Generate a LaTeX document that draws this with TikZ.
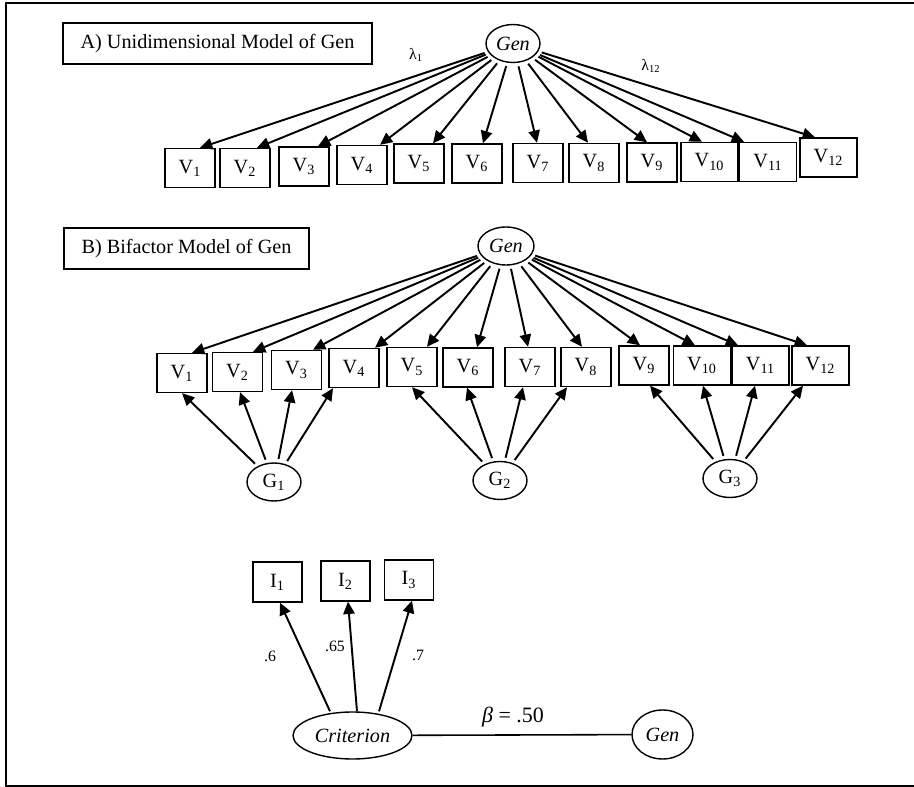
\documentclass[tikz,border=0pt]{standalone}
\usepackage{fontspec}
\setmainfont{Liberation Serif}
\usetikzlibrary{arrows.meta,shapes.geometric}

\tikzset{
  obs/.style={draw, line width=0.8pt, inner sep=0pt,
    minimum width=1cm, minimum height=0.78cm,
    font=\fontsize{11.5}{13}\selectfont},
  obswide/.style={obs, minimum width=1.14cm},
  lat/.style={draw, ellipse, line width=0.8pt, inner sep=0pt,
    minimum width=1.08cm, minimum height=0.76cm,
    font=\fontsize{11.5}{13}\selectfont},
  load/.style={line width=1.1pt, -{Triangle[length=7pt,width=6.5pt]},
    shorten <=2pt},
  titlebox/.style={draw, line width=0.9pt, inner sep=0pt,
    minimum height=0.82cm, font=\fontsize{11.5}{13}\selectfont},
  coef/.style={font=\fontsize{9}{10}\selectfont},
}

\begin{document}
\begin{tikzpicture}[x=0.02cm, y=-0.02cm]
  \useasboundingbox (0,0) rectangle (914,787);
  % frame
  \draw[line width=1.1pt] (914,3) -- (6,3) -- (6,786) -- (914,786);

  % A) unidimensional model
  \node[titlebox, minimum width=6.18cm] (titleA) at (217.5,43.5) {A) Unidimensional Model of Gen};
  \node[lat] (genA) at (513,43.5) {\textit{Gen}};

  \node[obs] (a1) at (190,168) {V\textsubscript{1}};
  \node[obs] (a2) at (245,168) {V\textsubscript{2}};
  \node[obs] (a3) at (304,166.5) {V\textsubscript{3}};
  \node[obs] (a4) at (362,165) {V\textsubscript{4}};
  \node[obs] (a5) at (419,163.5) {V\textsubscript{5}};
  \node[obs] (a6) at (477,163.5) {V\textsubscript{6}};
  \node[obs] (a7) at (538,163) {V\textsubscript{7}};
  \node[obs] (a8) at (594,163) {V\textsubscript{8}};
  \node[obs] (a9) at (652,162.5) {V\textsubscript{9}};
  \node[obswide] (a10) at (709.5,162) {V\textsubscript{10}};
  \node[obswide] (a11) at (768,162) {V\textsubscript{11}};
  \node[obswide] (a12) at (828.5,157.5) {V\textsubscript{12}};

  \draw[load] (genA) -- (a1.north -| 200,0);
  \draw[load] (genA) -- (a2.north -| 257,0);
  \draw[load] (genA) -- (a3.north -| 318,0);
  \draw[load] (genA) -- (a4.north -| 380,0);
  \draw[load] (genA) -- (a5.north -| 433,0);
  \draw[load] (genA) -- (a6.north -| 483,0);
  \draw[load] (genA) -- (a7.north -| 537,0);
  \draw[load] (genA) -- (a8.north -| 588,0);
  \draw[load] (genA) -- (a9.north -| 647,0);
  \draw[load] (genA) -- (a10.north -| 702,0);
  \draw[load] (genA) -- (a11.north -| 744,0);
  \draw[load] (genA) -- (a12.north -| 815,0);

  % labels
  \node[coef] (lamA) at (416,55) {λ\textsubscript{1}};
  \node[coef] (lamB) at (651,66) {λ\textsubscript{12}};

  % B) bifactor model
  \node[titlebox, minimum width=4.9cm] (titleB) at (186.5,248.5) {B) Bifactor Model of Gen};
  \node[lat, minimum width=1.12cm] (genB) at (506,246) {\textit{Gen}};

  \node[obs] (b1) at (182,373) {V\textsubscript{1}};
  \node[obs] (b2) at (237.5,372) {V\textsubscript{2}};
  \node[obs] (b3) at (296.5,370) {V\textsubscript{3}};
  \node[obs] (b4) at (354,368) {V\textsubscript{4}};
  \node[obs] (b5) at (412,367) {V\textsubscript{5}};
  \node[obs] (b6) at (468,367.5) {V\textsubscript{6}};
  \node[obs] (b7) at (530,367) {V\textsubscript{7}};
  \node[obs] (b8) at (586,367) {V\textsubscript{8}};
  \node[obs] (b9) at (644,365.5) {V\textsubscript{9}};
  \node[obswide] (b10) at (702,365.5) {V\textsubscript{10}};
  \node[obswide] (b11) at (760.5,365.5) {V\textsubscript{11}};
  \node[obswide] (b12) at (820.5,365.5) {V\textsubscript{12}};

  \node[lat] (g1) at (274,482) {G\textsubscript{1}};
  \node[lat] (g2) at (500,480.5) {G\textsubscript{2}};
  \node[lat] (g3) at (730,478.5) {G\textsubscript{3}};

  \draw[load] (genB) -- (b1.north -| 192,0);
  \draw[load] (genB) -- (b2.north -| 253,0);
  \draw[load] (genB) -- (b3.north -| 313,0);
  \draw[load] (genB) -- (b4.north -| 375,0);
  \draw[load] (genB) -- (b5.north -| 427,0);
  \draw[load] (genB) -- (b6.north -| 477,0);
  \draw[load] (genB) -- (b7.north -| 528,0);
  \draw[load] (genB) -- (b8.north -| 582,0);
  \draw[load] (genB) -- (b9.north -| 640,0);
  \draw[load] (genB) -- (b10.north -| 695,0);
  \draw[load] (genB) -- (b11.north -| 738,0);
  \draw[load] (genB) -- (b12.north -| 807,0);

  \draw[load] (g1) -- (b1.south -| 182,0);
  \draw[load] (g1) -- (b2.south -| 240,0);
  \draw[load] (g1) -- (b3.south -| 292,0);
  \draw[load] (g1) -- (b4.south -| 333,0);
  \draw[load] (g2) -- (b5.south -| 412,0);
  \draw[load] (g2) -- (b6.south -| 467,0);
  \draw[load] (g2) -- (b7.south -| 523,0);
  \draw[load] (g2) -- (b8.south -| 567,0);
  \draw[load] (g3) -- (b9.south -| 650,0);
  \draw[load] (g3) -- (b10.south -| 703,0);
  \draw[load] (g3) -- (b11.south -| 755,0);
  \draw[load] (g3) -- (b12.south -| 803,0);

  % criterion model
  \node[obs, minimum width=0.98cm, minimum height=0.8cm] (i1) at (277.5,582) {I\textsubscript{1}};
  \node[obs, minimum width=0.98cm, minimum height=0.8cm] (i2) at (345.5,581) {I\textsubscript{2}};
  \node[obs, minimum width=0.98cm, minimum height=0.8cm] (i3) at (409,580) {I\textsubscript{3}};

  \node[lat, minimum width=2.38cm, minimum height=0.94cm] (crit) at (352.5,735.5) {\textit{Criterion}};
  \node[lat, minimum width=1.22cm, minimum height=0.98cm] (genC) at (662.5,734.5) {\textit{Gen}};

  \draw[load, shorten <=0pt] (crit.north -| 330,0) -- (i1.south -| 280,0);
  \draw[load, shorten <=0pt] (crit.north -| 357,0) -- (i2.south -| 348,0);
  \draw[load, shorten <=0pt] (crit.north -| 379,0) -- (i3.south -| 412,0);
  \draw[line width=0.9pt] (crit) -- (genC);

  % labels
  \node[coef] (c1) at (270,656) {.6};
  \node[coef] (c2) at (335,646) {.65};
  \node[coef] (c3) at (418,655) {.7};
  \node[font=\fontsize{12.5}{14}\selectfont] (beta) at (513,717) {\textit{β} = .50};
\end{tikzpicture}
\end{document}
